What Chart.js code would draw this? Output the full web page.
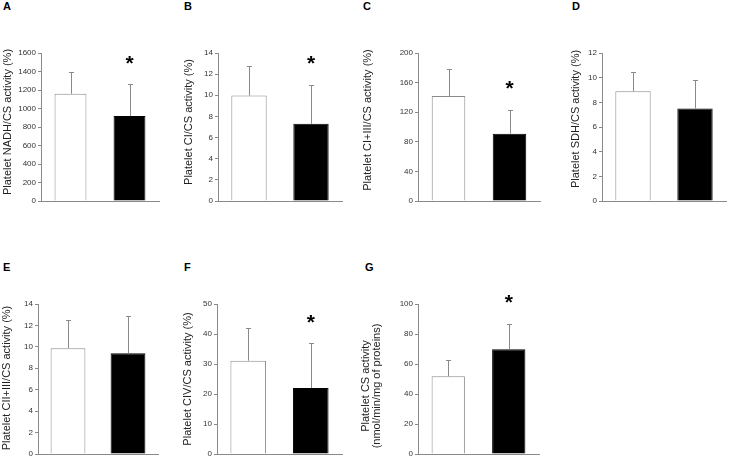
<!DOCTYPE html>
<html>
<head>
<meta charset="utf-8">
<script src="https://cdn.jsdelivr.net/npm/chart.js@4/dist/chart.umd.min.js"></script>
<style>
  html, body { margin: 0; padding: 0; background: #fff; }
  body { width: 730px; height: 458px; position: relative; overflow: hidden; }
  canvas { position: absolute; }
  .letra { position: absolute; font: bold 11px "Liberation Sans", Arial, sans-serif; line-height: 11px; color: #000; }
</style>
</head>
<body>
<div class="letra" style="left:3px;top:1px">A</div>
<div class="letra" style="left:184px;top:1px">B</div>
<div class="letra" style="left:363px;top:1px">C</div>
<div class="letra" style="left:572px;top:1px">D</div>
<div class="letra" style="left:3px;top:262px">E</div>
<div class="letra" style="left:184px;top:262px">F</div>
<div class="letra" style="left:365px;top:262px">G</div>

<canvas id="painelA"></canvas>
<canvas id="painelB"></canvas>
<canvas id="painelC"></canvas>
<canvas id="painelD"></canvas>
<canvas id="painelE"></canvas>
<canvas id="painelF"></canvas>
<canvas id="painelG"></canvas>

<script>
// Dados (grupo branco, grupo preto)
const grupos = ['', ''];

const nadhMedia = [1160, 920];
const nadhDp = [240, 340];

const ciMedia = [9.97, 7.3];
const ciDp = [2.8, 3.7];

const ci3Media = [142, 91];
const ci3Dp = [37, 32];

const sdhMedia = [8.9, 7.5];
const sdhDp = [1.6, 2.35];

const cii3Media = [9.87, 9.4];
const cii3Dp = [2.6, 3.5];

const civMedia = [31.1, 22];
const civDp = [10.8, 15];

const csMedia = [51.8, 69.8];
const csDp = [11.1, 16.9];

// asterisco (*) por barra
const estrelaA = [false, true];
const estrelaB = [false, true];
const estrelaC = [false, true];
const estrelaD = [false, false];
const estrelaE = [false, false];
const estrelaF = [false, true];
const estrelaG = [false, true];

// ticks do eixo y: [max, passo]
const eixoA = [1600, 200];
const eixoB = [14, 2];
const eixoC = [200, 40];
const eixoD = [12, 2];
const eixoE = [14, 2];
const eixoF = [50, 10];
const eixoG = [100, 20];

const CINZA = '#8a8a8a';
const FONTE = '"Liberation Sans", Arial, sans-serif';
Chart.defaults.font.family = FONTE;

// barras de erro + asterisco
const barrasErro = {
  id: 'barrasErro',
  afterDatasetsDraw(chart) {
    const ctx = chart.ctx;
    const ds = chart.data.datasets[0];
    const y = chart.scales.y;
    chart.getDatasetMeta(0).data.forEach((bar, i) => {
      const topo = y.getPixelForValue(ds.data[i] + ds.dp[i]);
      const base = y.getPixelForValue(ds.data[i]);
      const x = Math.round(bar.x) + 0.5;
      ctx.save();
      ctx.strokeStyle = CINZA;
      ctx.lineWidth = 1;
      ctx.beginPath();
      ctx.moveTo(x, base);
      ctx.lineTo(x, Math.round(topo) + 0.5);
      ctx.moveTo(x - 2.5, Math.round(topo) + 0.5);
      ctx.lineTo(x + 2.5, Math.round(topo) + 0.5);
      ctx.stroke();
      if (ds.estrela[i]) {
        ctx.fillStyle = '#000';
        ctx.font = 'bold 21px ' + FONTE;
        ctx.textAlign = 'center';
        ctx.textBaseline = 'alphabetic';
        ctx.fillText('*', bar.x, topo - 23 + 8.5);
      }
      ctx.restore();
    });
  }
};

// titulo do eixo y (rotacionado)
const tituloY = {
  id: 'tituloY',
  afterDraw(chart) {
    const t = chart.config.options.tituloY;
    const ctx = chart.ctx;
    ctx.save();
    ctx.fillStyle = '#222';
    ctx.font = '11px ' + FONTE;
    ctx.textAlign = 'center';
    ctx.textBaseline = 'middle';
    t.linhas.forEach((linha, i) => {
      ctx.save();
      ctx.translate(t.x[i], t.y);
      ctx.rotate(-Math.PI / 2);
      ctx.fillText(linha, 0, 0);
      ctx.restore();
    });
    ctx.restore();
  }
};

function criarPainel(id, pos, titulo, media, dp, estrela, eixo) {
  const canvas = document.getElementById(id);
  const largura = pos.fim - pos.esq + 4;
  const altura = pos.zero - pos.topo + 14;
  canvas.width = largura;
  canvas.height = altura;
  canvas.style.left = pos.esq + 'px';
  canvas.style.top = pos.topo + 'px';
  canvas.style.width = largura + 'px';
  canvas.style.height = altura + 'px';

  new Chart(canvas.getContext('2d'), {
    type: 'bar',
    data: {
      labels: grupos,
      datasets: [{
        data: media,
        dp: dp,
        estrela: estrela,
        backgroundColor: ['#ffffff', '#000000'],
        borderColor: [CINZA, '#000000'],
        borderWidth: 1,
        categoryPercentage: 1,
        barPercentage: pos.barra
      }]
    },
    options: {
      responsive: false,
      animation: false,
      devicePixelRatio: 1,
      tituloY: {
        linhas: titulo,
        x: pos.tx.map(v => v - pos.esq),
        y: pos.ty - pos.topo
      },
      layout: {
        padding: { left: 0, right: 4, top: pos.topoTick - pos.topo, bottom: 14 }
      },
      plugins: {
        legend: { display: false },
        tooltip: { enabled: false }
      },
      scales: {
        x: {
          ticks: { display: false },
          grid: { display: false },
          border: { display: true, color: CINZA, width: 1 },
          afterFit: s => { s.height = 0; }
        },
        y: {
          min: 0,
          max: eixo[0],
          ticks: { stepSize: eixo[1], color: '#333', font: { size: 8 }, padding: 2, callback: v => String(v) },
          grid: { drawOnChartArea: false, color: CINZA, tickLength: 3 },
          border: { display: true, color: CINZA, width: 1 },
          afterFit: s => { s.width = pos.eixo - pos.esq; }
        }
      }
    },
    plugins: [barrasErro, tituloY]
  });
}

criarPainel('painelA', { esq: 0, eixo: 41, fim: 159, topo: 0, topoTick: 53, zero: 201, barra: 0.54, tx: [8], ty: 122 },
  ['Platelet NADH/CS activity (%)'], nadhMedia, nadhDp, estrelaA, eixoA);
criarPainel('painelB', { esq: 181, eixo: 218, fim: 342, topo: 0, topoTick: 53, zero: 201, barra: 0.57, tx: [188.5], ty: 122 },
  ['Platelet CI/CS activity (%)'], ciMedia, ciDp, estrelaB, eixoB);
criarPainel('painelC', { esq: 360, eixo: 418, fim: 540, topo: 0, topoTick: 53, zero: 201, barra: 0.55, tx: [368], ty: 120 },
  ['Platelet CI+III/CS activity (%)'], ci3Media, ci3Dp, estrelaC, eixoC);
criarPainel('painelD', { esq: 568, eixo: 602, fim: 726, topo: 0, topoTick: 53, zero: 201, barra: 0.57, tx: [575.5], ty: 119 },
  ['Platelet SDH/CS activity (%)'], sdhMedia, sdhDp, estrelaD, eixoD);
criarPainel('painelE', { esq: 0, eixo: 38, fim: 158, topo: 225, topoTick: 304, zero: 454, barra: 0.58, tx: [6.5], ty: 378 },
  ['Platelet CII+III/CS activity (%)'], cii3Media, cii3Dp, estrelaE, eixoE);
criarPainel('painelF', { esq: 180, eixo: 217, fim: 342, topo: 225, topoTick: 304, zero: 454, barra: 0.57, tx: [188], ty: 379 },
  ['Platelet CIV/CS activity (%)'], civMedia, civDp, estrelaF, eixoF);
criarPainel('painelG', { esq: 358, eixo: 418, fim: 539, topo: 225, topoTick: 304, zero: 454, barra: 0.55, tx: [366, 377], ty: 386 },
  ['Platelet CS activity', '(nmol/min/mg of proteins)'], csMedia, csDp, estrelaG, eixoG);
</script>
</body>
</html>
